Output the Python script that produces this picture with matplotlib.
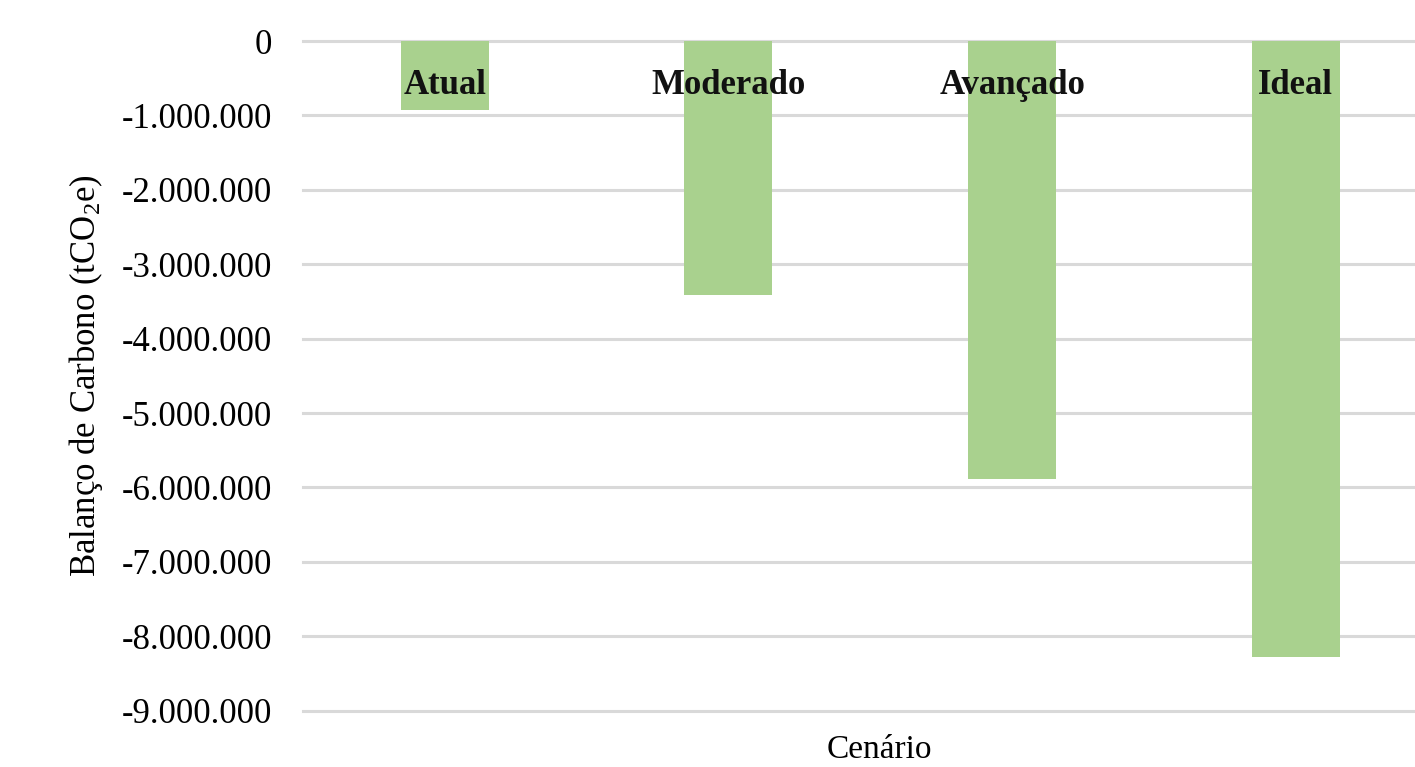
import matplotlib.pyplot as plt
from matplotlib.ticker import FuncFormatter, MultipleLocator

# Dados
cenarios = ['Atual', 'Moderado', 'Avançado', 'Ideal']
balanco = [-930000, -3410000, -5890000, -8280000]

plt.rcParams['font.family'] = ['Liberation Serif', 'DejaVu Serif']
plt.rcParams['mathtext.default'] = 'regular'

fig = plt.figure(figsize=(14.15, 7.67), dpi=100)
ax = fig.add_axes([0.214, 0.0735, 0.802, 0.873])

x = range(len(cenarios))
ax.bar(x, balanco, width=0.31, color='#A9D18E', zorder=2)

# Rótulos das categorias dentro do topo das barras
for xi, nome in zip(x, cenarios):
    ax.text(xi, -600000, nome, ha='center', va='center',
            fontsize=25, fontweight='bold', color='#111111', zorder=3)

ax.set_xlim(-0.5, 3.5)
ax.set_ylim(-9000000, 0)
ax.yaxis.set_major_locator(MultipleLocator(1000000))
ax.yaxis.set_major_formatter(FuncFormatter(lambda v, p: f"{int(round(v)):,}".replace(',', '.')))
ax.set_xticks([])
ax.tick_params(axis='y', length=0, labelsize=25, pad=22)
ax.grid(axis='y', color='#D9D9D9', linewidth=2.2, zorder=0)
for gl in ax.get_ygridlines():
    gl.set_clip_on(False)
for s in ax.spines.values():
    s.set_visible(False)

ax.set_ylabel('Balanço de Carbono (tCO$_2$e)', fontsize=25, labelpad=12)
ax.set_xlabel('Cenário', fontsize=24)
ax.xaxis.set_label_coords((880 - 303) / 1135, -0.035)

fig.savefig('out.png', dpi=100)
plt.close(fig)
